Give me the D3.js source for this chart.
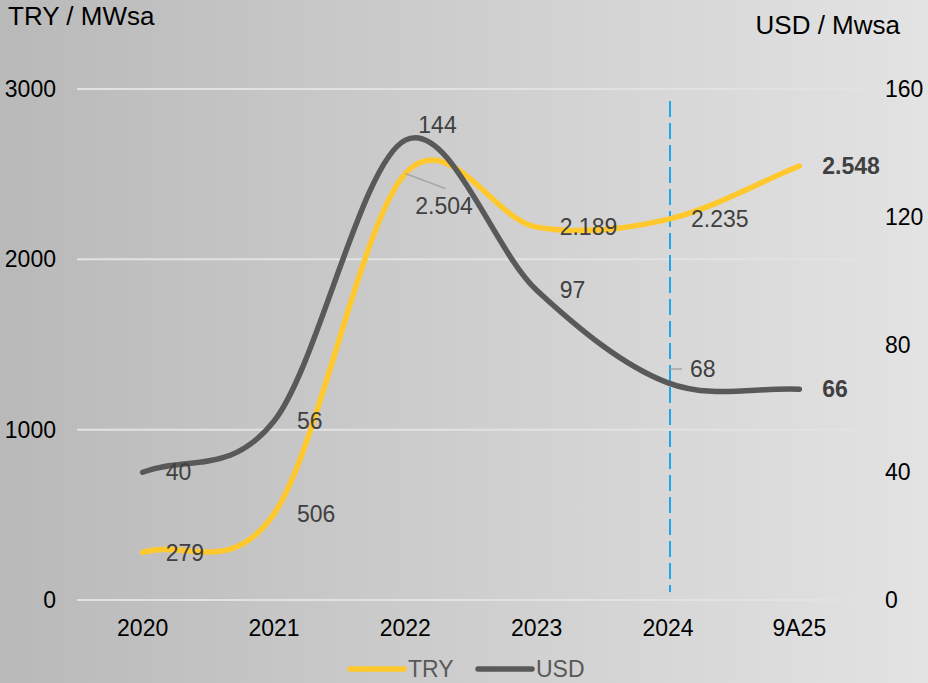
<!DOCTYPE html>
<html>
<head>
<meta charset="utf-8">
<script src="https://cdn.jsdelivr.net/npm/d3@7"></script>
<style>
  html, body { margin: 0; padding: 0; }
  body { width: 928px; height: 683px; overflow: hidden; }
  text { font-family: 'Liberation Sans', Arial, sans-serif; }
</style>
</head>
<body>
<div id="chart"></div>
<script>
const svgWidth = 928;
const svgHeight = 683;

const categories = ['2020', '2021', '2022', '2023', '2024', '9A25'];
const tryValues = [279, 506, 2504, 2189, 2235, 2548];
const usdValues = [40, 56, 144, 97, 68, 66];
const tryLabels = ['279', '506', '2.504', '2.189', '2.235', '2.548'];
const usdLabels = ['40', '56', '144', '97', '68', '66'];
const leftTicks = [0, 1000, 2000, 3000];
const rightTicks = [0, 40, 80, 120, 160];

const TRY_COLOR = '#ffc82c';
const USD_COLOR = '#595959';
const LABEL_COLOR = '#404040';

// spreadsheet-style smoothing: catmull-rom inside, end tangents of (P1-P0)/3
function SmoothCurve(context) {
  this._context = context;
}
SmoothCurve.prototype = {
  areaStart() {},
  areaEnd() {},
  lineStart() {
    this._pts = [];
  },
  point(x, y) {
    this._pts.push([+x, +y]);
  },
  lineEnd() {
    const p = this._pts;
    const ctx = this._context;
    if (!p.length) return;
    ctx.moveTo(p[0][0], p[0][1]);
    const n = p.length;
    const prev = (i) => (i > 0 ? p[i - 1] : [2 * p[0][0] - p[1][0], 2 * p[0][1] - p[1][1]]);
    const next = (i) =>
      i < n - 1 ? p[i + 1] : [2 * p[n - 1][0] - p[n - 2][0], 2 * p[n - 1][1] - p[n - 2][1]];
    for (let i = 0; i < n - 1; i++) {
      const a = prev(i);
      const b = next(i + 1);
      const c1 = [p[i][0] + (p[i + 1][0] - a[0]) / 6, p[i][1] + (p[i + 1][1] - a[1]) / 6];
      const c2 = [p[i + 1][0] - (b[0] - p[i][0]) / 6, p[i + 1][1] - (b[1] - p[i][1]) / 6];
      ctx.bezierCurveTo(c1[0], c1[1], c2[0], c2[1], p[i + 1][0], p[i + 1][1]);
    }
  },
};
const curveSmooth = (context) => new SmoothCurve(context);

const svg = d3.select('#chart').append('svg').attr('width', svgWidth).attr('height', svgHeight);

// background gradient, darker on the left
const grad = svg.append('defs').append('linearGradient').attr('id', 'bg').attr('x1', '0%').attr('x2', '100%');
grad.append('stop').attr('offset', '0%').attr('stop-color', '#b9b9b9');
grad.append('stop').attr('offset', '100%').attr('stop-color', '#e3e3e3');
svg.append('rect').attr('width', svgWidth).attr('height', svgHeight).attr('fill', 'url(#bg)');

const x = d3.scaleBand().domain(categories).range([77, 865]).padding(0);
const yLeft = d3.scaleLinear().domain([0, 3000]).range([600, 89]);
const yRight = d3.scaleLinear().domain([0, 160]).range([600, 89]);
const cx = (c) => x(c) + x.bandwidth() / 2;

// gridlines
svg
  .append('g')
  .selectAll('line')
  .data(leftTicks)
  .join('line')
  .attr('x1', 77)
  .attr('x2', 865)
  .attr('y1', (d) => yLeft(d))
  .attr('y2', (d) => yLeft(d))
  .attr('stroke', '#e2e2e2')
  .attr('stroke-width', 2);

// axes (text only)
svg
  .append('g')
  .selectAll('text')
  .data(leftTicks)
  .join('text')
  .attr('x', 56)
  .attr('y', (d) => yLeft(d))
  .attr('dy', '0.35em')
  .attr('text-anchor', 'end')
  .style('font-size', '23px')
  .attr('fill', '#000')
  .text((d) => d);

svg
  .append('g')
  .selectAll('text')
  .data(rightTicks)
  .join('text')
  .attr('x', 885)
  .attr('y', (d) => yRight(d))
  .attr('dy', '0.35em')
  .style('font-size', '23px')
  .attr('fill', '#000')
  .text((d) => d);

svg
  .append('g')
  .selectAll('text')
  .data(categories)
  .join('text')
  .attr('x', (d) => cx(d))
  .attr('y', 628)
  .attr('dy', '0.35em')
  .attr('text-anchor', 'middle')
  .style('font-size', '23px')
  .attr('fill', '#000')
  .text((d) => d);

svg.append('text').attr('x', 8).attr('y', 16).attr('dy', '0.35em').style('font-size', '26px').text('TRY / MWsa');
svg
  .append('text')
  .attr('x', 900)
  .attr('y', 25)
  .attr('dy', '0.35em')
  .attr('text-anchor', 'end')
  .style('font-size', '26px')
  .text('USD / Mwsa');

// dashed marker at 2024
svg
  .append('line')
  .attr('x1', cx('2024') + 2)
  .attr('x2', cx('2024') + 2)
  .attr('y1', 101)
  .attr('y2', 592)
  .attr('stroke', '#1ea6ef')
  .attr('stroke-width', 2)
  .attr('stroke-dasharray', '16 6');

// smoothed lines
const tryLine = d3
  .line()
  .x((d, i) => cx(categories[i]))
  .y((d) => yLeft(d))
  .curve(curveSmooth);
const usdLine = d3
  .line()
  .x((d, i) => cx(categories[i]))
  .y((d) => yRight(d))
  .curve(curveSmooth);

svg
  .append('path')
  .datum(tryValues)
  .attr('fill', 'none')
  .attr('stroke', TRY_COLOR)
  .attr('stroke-width', 5.5)
  .attr('stroke-linecap', 'round')
  .attr('d', tryLine);

svg
  .append('path')
  .datum(usdValues)
  .attr('fill', 'none')
  .attr('stroke', USD_COLOR)
  .attr('stroke-width', 5.5)
  .attr('stroke-linecap', 'round')
  .attr('d', usdLine);

// leader lines for moved labels
svg
  .append('line')
  .attr('x1', cx('2022'))
  .attr('y1', yLeft(2504))
  .attr('x2', cx('2022') + 40)
  .attr('y2', yLeft(2504) + 15)
  .attr('stroke', '#a6a6a6')
  .attr('stroke-width', 1.5);
svg
  .append('line')
  .attr('x1', cx('2024') + 2)
  .attr('y1', 369)
  .attr('x2', cx('2024') + 14)
  .attr('y2', 369)
  .attr('stroke', '#a6a6a6')
  .attr('stroke-width', 1.5);

// data labels: default to the right of the point; a few were moved by hand
const labelOffsets = {
  'USD-2022': { dx: 13, y: 125 },
  'TRY-2022': { dx: 10, y: 206 },
  'USD-2024': { dx: 22, y: 369 },
};

const drawLabels = (values, labels, y, key) => {
  values.forEach((v, i) => {
    const c = categories[i];
    const off = labelOffsets[`${key}-${c}`];
    const last = i === values.length - 1;
    svg
      .append('text')
      .attr('x', cx(c) + (off ? off.dx : 23))
      .attr('y', off ? off.y : y(v))
      .attr('dy', '0.35em')
      .attr('fill', LABEL_COLOR)
      .style('font-size', '23px')
      .style('font-weight', last ? 'bold' : 'normal')
      .text(labels[i]);
  });
};

drawLabels(tryValues, tryLabels, yLeft, 'TRY');
drawLabels(usdValues, usdLabels, yRight, 'USD');

// legend
const legendItems = [
  { label: 'TRY', color: TRY_COLOR, x: 350 },
  { label: 'USD', color: USD_COLOR, x: 478 },
];
legendItems.forEach((it) => {
  const g = svg.append('g').attr('transform', `translate(${it.x}, 669)`);
  g.append('line')
    .attr('x1', 0)
    .attr('x2', 54)
    .attr('stroke', it.color)
    .attr('stroke-width', 5.5)
    .attr('stroke-linecap', 'round');
  g.append('text')
    .attr('x', 58)
    .attr('y', 0)
    .attr('dy', '0.35em')
    .attr('fill', '#595959')
    .style('font-size', '23px')
    .text(it.label);
});
</script>
</body>
</html>
